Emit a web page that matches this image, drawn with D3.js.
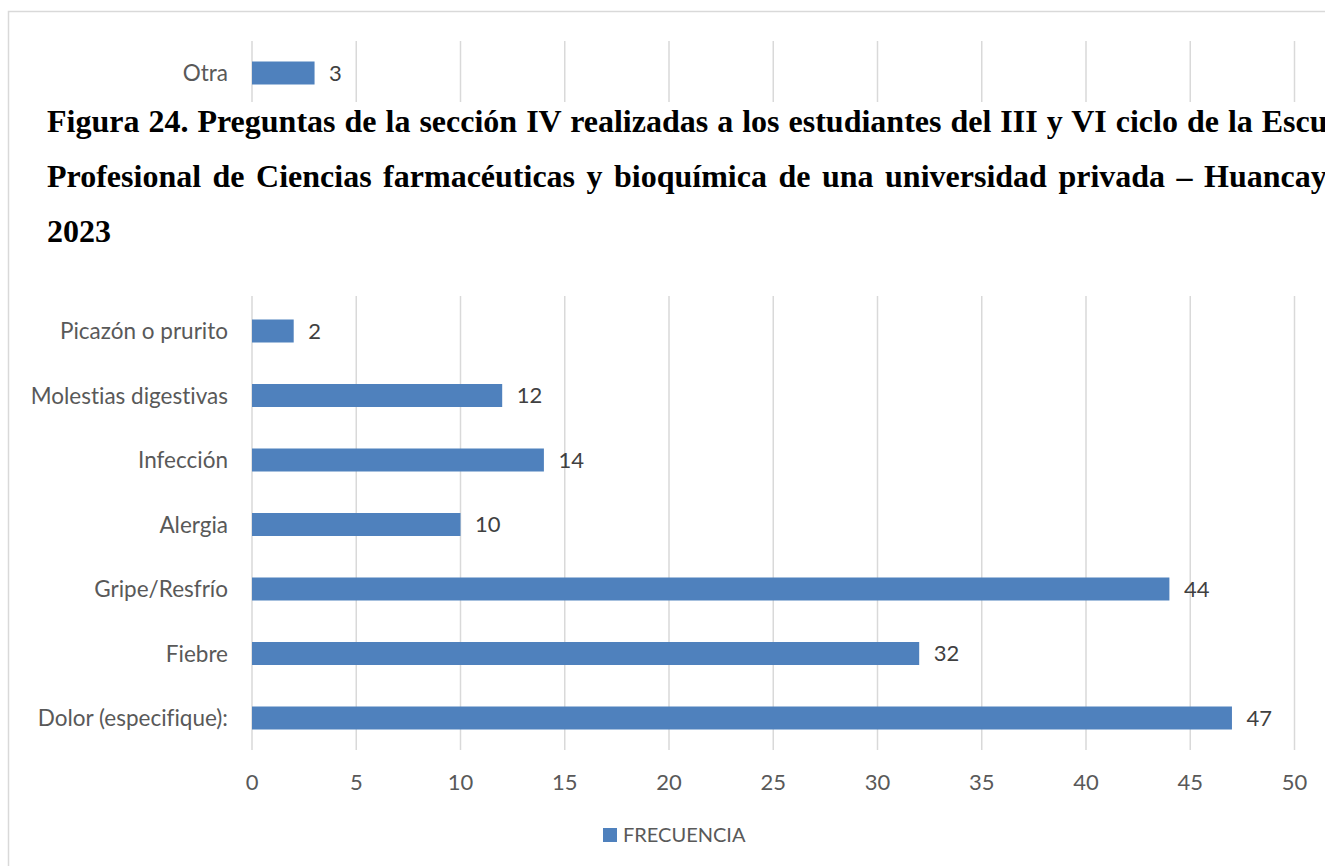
<!DOCTYPE html>
<html>
<head>
<meta charset="utf-8">
<script src="https://cdn.jsdelivr.net/npm/d3@7"></script>
<style>
  html, body { margin: 0; padding: 0; background: #fff; overflow: hidden; }
  svg { display: block; }
  text { font-variant-ligatures: none; }
</style>
</head>
<body>
<svg id="chart" width="1325" height="866"></svg>
<script>
// ---- data (top to bottom as shown) ----
const categories = ["Otra", "Picazón o prurito", "Molestias digestivas", "Infección", "Alergia", "Gripe/Resfrío", "Fiebre", "Dolor (especifique):"];
const values = [3, 2, 12, 14, 10, 44, 32, 47];
const coveredSlots = 3; // rows hidden beneath the figure caption
const xTicks = [0, 5, 10, 15, 20, 25, 30, 35, 40, 45, 50];
const seriesName = "FRECUENCIA";
const titleLines = [
  "Figura 24. Preguntas de la sección IV realizadas a los estudiantes del III y VI ciclo de la Escuela",
  "Profesional de Ciencias farmacéuticas y bioquímica de una universidad privada – Huancayo –",
  "2023"
];

const svg = d3.select("#chart");
const labelFont = "Lato, 'Open Sans', sans-serif";
const barColor = "#4f81bd";

// frame
svg.append("rect").attr("x", 8.5).attr("y", 11.5).attr("width", 1400).attr("height", 900)
  .attr("fill", "#fff").attr("stroke", "#d9d9d9").attr("stroke-width", 1.5);

const x = d3.scaleLinear().domain([0, 50]).range([251.5, 1294]);
const domain = [categories[0], ...d3.range(coveredSlots).map(i => "__covered" + i), ...categories.slice(1)];
const pin = 1 - 23 / 64.5;
const y = d3.scaleBand().domain(domain).range([40.75, 750.25]).paddingInner(pin).paddingOuter(pin / 2);

// gridlines
const grid = svg.append("g").attr("transform", `translate(0,750)`)
  .call(d3.axisBottom(x).tickValues(xTicks).tickSize(-(750 - 41)).tickFormat(""));
grid.select(".domain").remove();
grid.selectAll("line").attr("stroke", "#d9d9d9").attr("stroke-width", 1.5);

// tick labels
const ax = svg.append("g").attr("transform", `translate(0,750)`)
  .call(d3.axisBottom(x).tickValues(xTicks).tickSize(0).tickPadding(24));
ax.select(".domain").remove();
ax.selectAll("text").attr("font-family", labelFont).attr("font-size", 22).attr("fill", "#595959");

const data = categories.map((c, i) => ({ c, v: values[i] }));

// bars
svg.append("g").selectAll("rect").data(data).join("rect")
  .attr("x", x(0) + 0.5)
  .attr("y", d => y(d.c))
  .attr("width", d => x(d.v) - x(0))
  .attr("height", y.bandwidth())
  .attr("fill", barColor);

// value labels
svg.append("g").selectAll("text").data(data).join("text")
  .attr("x", d => x(d.v) + 15)
  .attr("y", d => y(d.c) + y.bandwidth() / 2)
  .attr("dy", "0.36em")
  .attr("font-family", labelFont).attr("font-size", 22).attr("fill", "#404040")
  .text(d => d.v);

// category labels
svg.append("g").selectAll("text").data(data).join("text")
  .attr("x", 228)
  .attr("y", d => y(d.c) + y.bandwidth() / 2)
  .attr("dy", "0.36em")
  .attr("text-anchor", "end")
  .attr("font-family", labelFont).attr("font-size", 22.5).attr("fill", "#595959")
  .text(d => d.c);

// caption block overlaid
svg.append("rect").attr("x", 10).attr("y", 102).attr("width", 1400).attr("height", 194).attr("fill", "#fff");
const tl = svg.append("g");
tl.selectAll("text").data(titleLines).join("text")
  .attr("x", 47)
  .attr("y", (d, i) => 132 + i * 55)
  .attr("font-family", "'Liberation Serif', 'Times New Roman', serif")
  .attr("font-weight", "bold")
  .attr("font-size", 32)
  .attr("fill", "#000")
  .attr("word-spacing", (d, i) => i === 0 ? 1 : (i === 1 ? 3.5 : 0))
  .text(d => d);

// legend
const lg = svg.append("g");
lg.append("rect").attr("x", 603).attr("y", 828).attr("width", 14).attr("height", 14).attr("fill", barColor);
lg.append("text").attr("x", 623).attr("y", 842)
  .attr("font-family", labelFont).attr("font-size", 20).attr("fill", "#595959").text(seriesName);
</script>
</body>
</html>
